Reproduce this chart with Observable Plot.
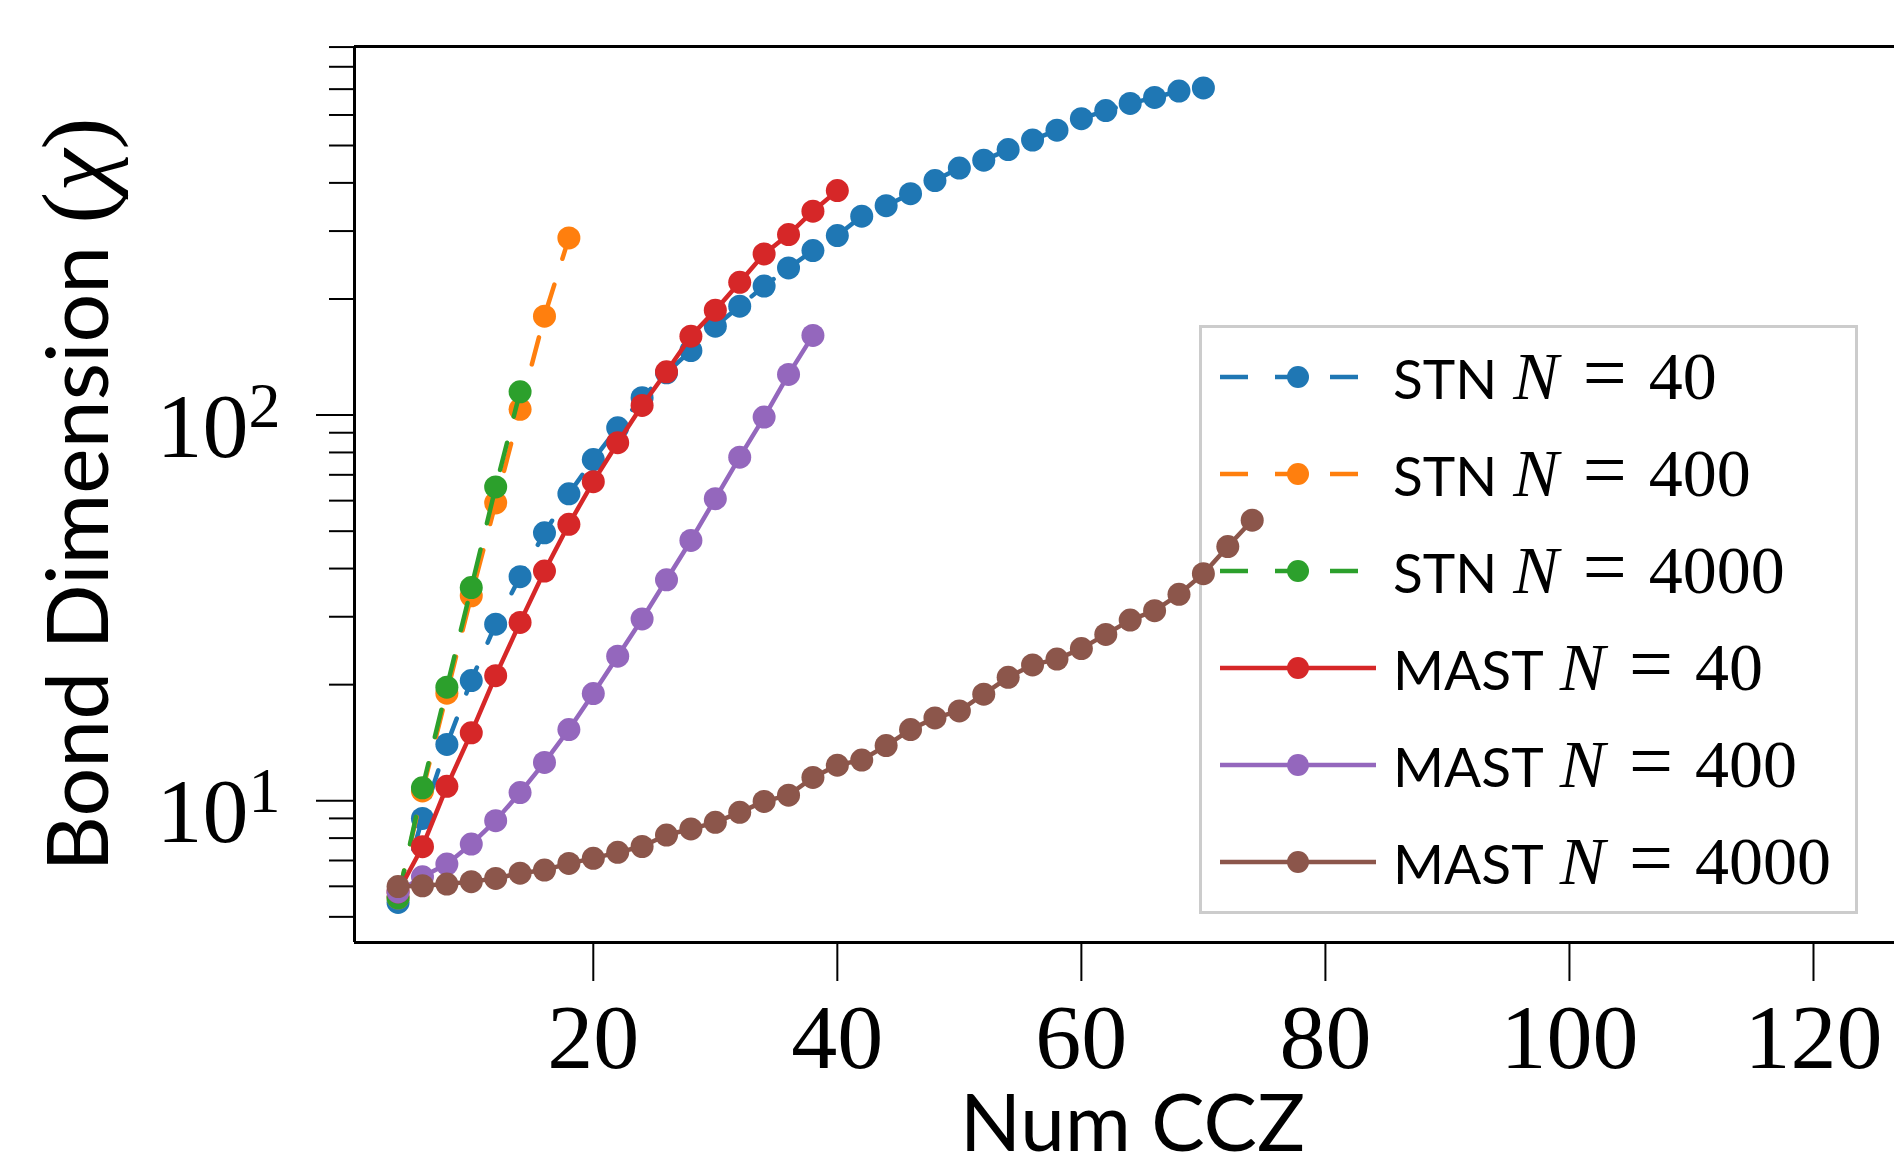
<!DOCTYPE html>
<html><head><meta charset="utf-8">
<script src="https://cdn.jsdelivr.net/npm/d3@7"></script>
<script src="https://cdn.jsdelivr.net/npm/@observablehq/plot@0.6"></script>
<style>
html,body{margin:0;padding:0;background:#fff;overflow:hidden;}
#wrap{position:relative;width:1894px;height:1161px;overflow:hidden;background:#fff;}
#legend{position:absolute;left:1199px;top:325px;width:659px;height:589px;box-sizing:border-box;border:3px solid #cccccc;background:#fff;z-index:0;}
#chart{position:absolute;left:0;top:0;z-index:1;}
.row{position:absolute;left:0;height:97px;display:flex;align-items:center;white-space:nowrap;}
.row svg{margin-left:18px;flex:none;}
.lab{margin-left:17px;font-family:Lato;font-size:55px;color:#000;position:relative;top:-4px;}
.math{font-family:"Liberation Serif";font-size:68px;}
</style></head>
<body>
<div id="wrap"><div id="legend"></div><div id="chart"></div></div>
<script>
// ---- data ----
const seriesNames = ["STN", "STN", "STN", "MAST", "MAST", "MAST"];
const seriesN = [40, 400, 4000, 40, 400, 4000];
const seriesColors = ["#1f77b4", "#ff7f0e", "#2ca02c", "#d62728", "#9467bd", "#8c564b"];
const seriesDashed = [true, true, true, false, false, false];

const stn40X = [4,6,8,10,12,14,16,18,20,22,24,26,28,30,32,34,36,38,40,42,44,46,48,50,52,54,56,58,60,62,64,66,68,70];
const stn40Y = [5.45,9.0,14.0,20.5,28.7,38.1,49.5,62.5,76.7,92.7,110.9,128.7,147,170,191.6,216,240.7,267,292,327.8,349,375,405.6,437,458,488,516.7,548,587,616,643,666,692,705];
const stn400X = [4,6,8,10,12,14,16,18];
const stn400Y = [5.6,10.6,19.0,34.0,59.2,103.5,180.5,288];
const stn4000X = [4,6,8,10,12,14];
const stn4000Y = [5.6,10.8,19.7,35.7,65.1,114.9];
const mast40X = [4,6,8,10,12,14,16,18,20,22,24,26,28,30,32,34,36,38,40];
const mast40Y = [5.8,7.6,10.9,15.0,21.1,29.0,39.4,52.1,67.2,84.8,105.9,129.5,160.2,187,221,261.7,293.9,337.8,382];
const mast400X = [4,6,8,10,12,14,16,18,20,22,24,26,28,30,32,34,36,38];
const mast400Y = [5.8,6.35,6.85,7.72,8.88,10.5,12.57,15.3,18.97,23.7,29.6,37.4,47.3,60.7,77.8,98.8,127.5,160.9];
const mast4000X = [4,6,8,10,12,14,16,18,20,22,24,26,28,30,32,34,36,38,40,42,44,46,48,50,52,54,56,58,60,62,64,66,68,70,72,74];
const mast4000Y = [5.99,6.02,6.08,6.17,6.29,6.49,6.61,6.88,7.09,7.35,7.61,8.15,8.45,8.79,9.33,9.96,10.34,11.49,12.37,12.75,13.9,15.3,16.4,17.1,18.9,20.9,22.5,23.3,24.8,27.0,29.4,31.1,34.3,38.8,45.6,53.4];

const xTicks = [20, 40, 60, 80, 100, 120];
const yMajor = [10, 100];
const yMinor = [5,6,7,8,9,20,30,40,50,60,70,80,90,200,300,400,500,600,700,800,900];
const xLabel = "Num CCZ";
const yLabel = "Bond Dimension (χ)";

const xDomain = [0.43, 127.95];
const yDomain = [4.29, 903];

const seriesX = [stn40X, stn400X, stn4000X, mast40X, mast400X, mast4000X];
const seriesY = [stn40Y, stn400Y, stn4000Y, mast40Y, mast400Y, mast4000Y];

const tables = seriesX.map((xs, i) => xs.map((x, j) => ({x, y: seriesY[i][j]})));

const dataMarks = [];
tables.forEach((t, i) => {
  dataMarks.push(Plot.line(t, {x: "x", y: "y", stroke: seriesColors[i], strokeWidth: 4.5,
    strokeDasharray: seriesDashed[i] ? "28,27" : null}));
  dataMarks.push(Plot.dot(t, {x: "x", y: "y", r: 11.5, fill: seriesColors[i], stroke: "none"}));
});

const plot = Plot.plot({
  width: 1894, height: 1161,
  marginLeft: 354, marginTop: 46, marginBottom: 219, marginRight: 0,
  style: {background: "transparent", overflow: "hidden"},
  x: {domain: xDomain, range: [354, 1910]},
  y: {type: "log", domain: yDomain, range: [942, 46]},
  marks: [
    Plot.axisY(yMinor, {tickSize: 25, strokeWidth: 2, tickFormat: () => "", label: null}),
    Plot.axisY(yMajor, {tickSize: 38, strokeWidth: 2, tickFormat: () => "", label: null}),
    Plot.axisY(yMajor, {tickSize: 0, tickPadding: 74, dy: 12, fontSize: 92,
      fontFamily: "Liberation Serif", tickFormat: d => "10^" + Math.round(Math.log10(d)), label: null, className: "ymaj"}),
    Plot.axisX(xTicks, {tickSize: 39, strokeWidth: 2, tickPadding: 21, fontSize: 92,
      fontFamily: "Liberation Serif", tickFormat: d => String(d), label: null}),
    Plot.ruleX([xDomain[0]], {stroke: "black", strokeWidth: 3}),
    Plot.ruleY([yDomain[0], yDomain[1]], {stroke: "black", strokeWidth: 3}),
    Plot.text([xLabel], {frameAnchor: "bottom", dy: 208, dx: 8, fontSize: 80, fontFamily: "Lato", fill: "black"}),
    Plot.text([yLabel], {frameAnchor: "left", textAnchor: "middle", rotate: -90, dx: -274, fontSize: 86, fontFamily: "Lato", fill: "black", className: "ylab"}),
    ...dataMarks
  ]
});
document.getElementById("chart").appendChild(plot);

// superscripts on y tick labels
d3.select(plot).selectAll("g.ymaj text").each(function() {
  const s = d3.select(this);
  const parts = s.text().split("^");
  s.text(parts[0]);
  s.append("tspan").attr("font-size", 64).attr("dy", -30).text(parts[1]);
});
// mixed fonts in y label
d3.select(plot).selectAll("g.ylab text").each(function() {
  const s = d3.select(this);
  const full = s.text();
  const k = full.indexOf("(");
  s.text("");
  s.append("tspan").text(full.slice(0, k));
  s.append("tspan").attr("font-family", "Liberation Serif").attr("font-size", 96).text("(");
  s.append("tspan").attr("font-family", "Liberation Serif").attr("font-style", "italic").attr("font-size", 96).text(full.slice(k + 1, k + 2));
  s.append("tspan").attr("font-family", "Liberation Serif").attr("font-size", 96).text(")");
});

// legend (HTML, under the data like the reference)
const legend = d3.select("#legend");
seriesNames.forEach((name, i) => {
  const row = legend.append("div").attr("class", "row").style("top", (0.8 + i * 97) + "px");
  const sw = row.append("svg").attr("width", 156).attr("height", 30);
  sw.append("line").attr("x1", 0).attr("x2", 156).attr("y1", 15).attr("y2", 15)
    .attr("stroke", seriesColors[i]).attr("stroke-width", 4.5)
    .attr("stroke-dasharray", seriesDashed[i] ? "28,27" : null);
  sw.append("circle").attr("cx", 78).attr("cy", 15).attr("r", 11).attr("fill", seriesColors[i]);
  const lab = row.append("span").attr("class", "lab");
  lab.append("span").text(name);
  const m = lab.append("span").attr("class", "math");
  m.append("i").style("margin-left", "16px").text("N");
  m.append("span").style("margin-left", "24px").style("font-size", "78px").text("=");
  m.append("span").style("margin-left", "22px").text(String(seriesN[i]));
});
</script>
</body></html>
